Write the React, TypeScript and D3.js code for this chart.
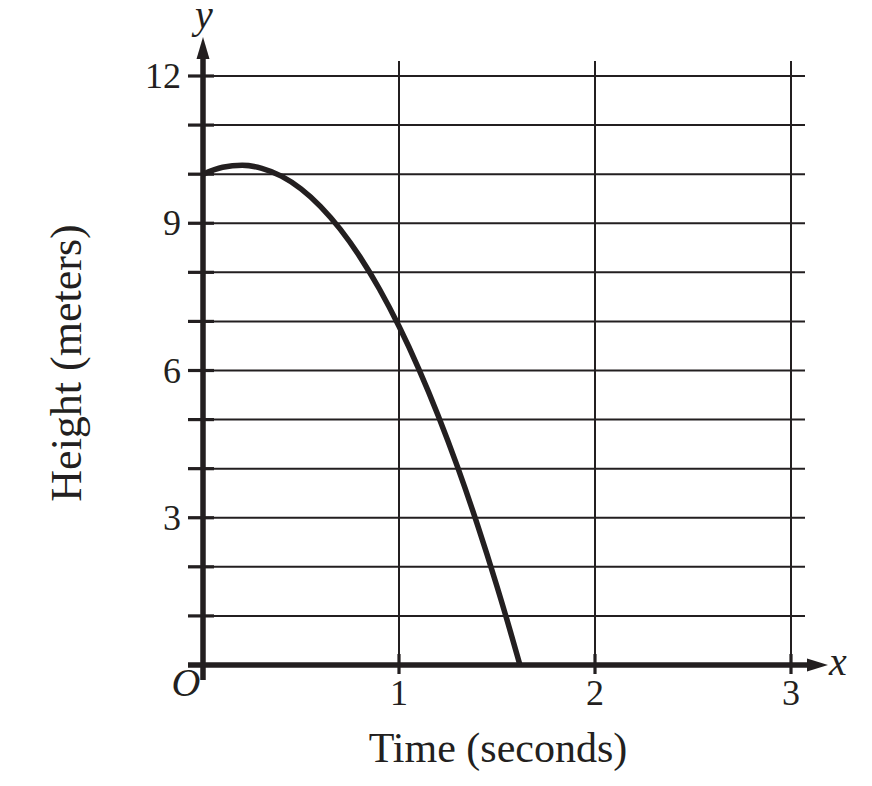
import React, { useEffect, useRef } from 'react';
import * as d3 from 'd3';

// time (s) vs height (m)
const times = [0, 0.1, 0.2, 0.3, 0.4, 0.5, 0.6, 0.7, 0.8, 0.9, 1.0, 1.1, 1.2, 1.3, 1.4, 1.5, 1.6, 1.617];
const heights = [10, 10.14, 10.18, 10.12, 9.96, 9.7, 9.34, 8.88, 8.32, 7.66, 6.9, 6.04, 5.08, 4.02, 2.86, 1.6, 0.24, 0];

const xTicks = [1, 2, 3];
const yGrid = [1, 2, 3, 4, 5, 6, 7, 8, 9, 10, 11, 12];
const yLabels = [3, 6, 9, 12];

const W = 872;
const H = 786;
const ink = '#231f20';
const font = '"Liberation Serif", "DejaVu Serif", serif';

const App: React.FC = () => {
  const svgRef = useRef<SVGSVGElement>(null);

  useEffect(() => {
    if (!svgRef.current) return;
    const svg = d3.select(svgRef.current).html('');

    const x = d3.scaleLinear().domain([0, 3]).range([203, 791]);
    const y = d3.scaleLinear().domain([0, 12]).range([665, 76]);

    const x0 = x(0), y0 = y(0);
    const gridLeft = 188, gridRight = 805, gridTop = 61;

    // Grid
    svg.append('g')
      .selectAll('line')
      .data(yGrid)
      .join('line')
      .attr('x1', gridLeft).attr('x2', gridRight)
      .attr('y1', d => y(d)).attr('y2', d => y(d))
      .attr('stroke', ink).attr('stroke-width', 2);

    svg.append('g')
      .selectAll('line')
      .data(xTicks)
      .join('line')
      .attr('x1', d => x(d)).attr('x2', d => x(d))
      .attr('y1', gridTop).attr('y2', 674)
      .attr('stroke', ink).attr('stroke-width', 2);

    // Tick marks (heavier than grid)
    svg.append('g')
      .selectAll('line')
      .data(yGrid)
      .join('line')
      .attr('x1', gridLeft).attr('x2', 214)
      .attr('y1', d => y(d)).attr('y2', d => y(d))
      .attr('stroke', ink).attr('stroke-width', 3.2);

    svg.append('g')
      .selectAll('line')
      .data(xTicks)
      .join('line')
      .attr('x1', d => x(d)).attr('x2', d => x(d))
      .attr('y1', 654).attr('y2', 674)
      .attr('stroke', ink).attr('stroke-width', 3.2);

    // Axes with arrows
    svg.append('line')
      .attr('x1', x0).attr('x2', x0)
      .attr('y1', 680).attr('y2', 56)
      .attr('stroke', ink).attr('stroke-width', 5.5);
    svg.append('path')
      .attr('d', `M${x0},37 L${x0 - 6.5},59 L${x0 + 6.5},59 Z`)
      .attr('fill', ink);

    svg.append('line')
      .attr('x1', gridLeft).attr('x2', 812)
      .attr('y1', y0).attr('y2', y0)
      .attr('stroke', ink).attr('stroke-width', 5.5);
    svg.append('path')
      .attr('d', `M828,${y0} L807,${y0 - 6.5} L807,${y0 + 6.5} Z`)
      .attr('fill', ink);

    // Curve
    const line = d3.line<number>()
      .x((_, i) => x(times[i]))
      .y(d => y(d))
      .curve(d3.curveMonotoneX);
    svg.append('path')
      .attr('d', line(heights))
      .attr('fill', 'none')
      .attr('stroke', ink)
      .attr('stroke-width', 5.5)
      .attr('stroke-linejoin', 'round');

    // Tick labels
    svg.append('g')
      .selectAll('text')
      .data(yLabels)
      .join('text')
      .attr('x', 181)
      .attr('y', d => y(d))
      .attr('dy', '0.34em')
      .attr('text-anchor', 'end')
      .style('font-family', font)
      .style('font-size', '36px')
      .attr('fill', ink)
      .text(d => d);

    svg.append('g')
      .selectAll('text')
      .data(xTicks)
      .join('text')
      .attr('x', d => x(d))
      .attr('y', 705)
      .attr('text-anchor', 'middle')
      .style('font-family', font)
      .style('font-size', '36px')
      .attr('fill', ink)
      .text(d => d);

    const italic = (t: string, px: number, py: number) =>
      svg.append('text')
        .attr('x', px).attr('y', py)
        .attr('text-anchor', 'middle')
        .style('font-family', font)
        .style('font-style', 'italic')
        .style('font-size', '40px')
        .attr('fill', ink)
        .text(t);

    italic('O', 186, 696);
    italic('x', 838, 675);
    italic('y', 204, 28);

    // Axis titles
    svg.append('text')
      .attr('x', 498).attr('y', 762)
      .attr('text-anchor', 'middle')
      .style('font-family', font)
      .style('font-size', '42px')
      .attr('fill', ink)
      .text('Time (seconds)');

    svg.append('text')
      .attr('transform', `translate(81,363) rotate(-90)`)
      .attr('text-anchor', 'middle')
      .style('font-family', font)
      .style('font-size', '44px')
      .attr('fill', ink)
      .text('Height (meters)');
  }, []);

  return (
    <svg
      ref={svgRef}
      width={W}
      height={H}
      style={{ position: 'absolute', left: 0, top: 0, background: '#fff' }}
    />
  );
};

export default App;
